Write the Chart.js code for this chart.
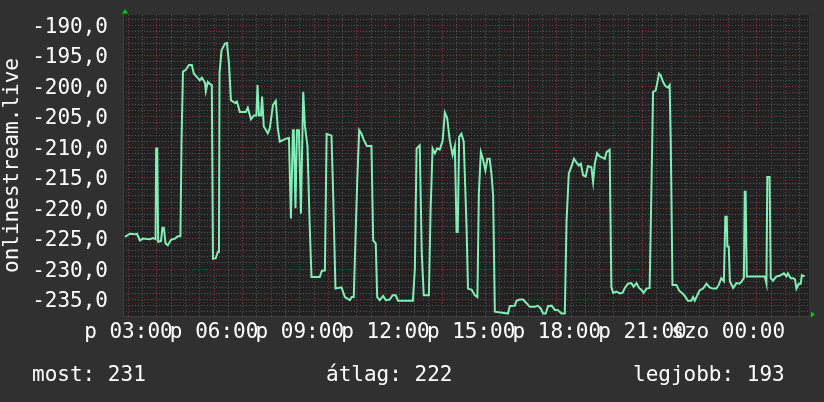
<!DOCTYPE html>
<html><head><meta charset="utf-8">
<script src="https://cdn.jsdelivr.net/npm/chart.js@4/dist/chart.umd.min.js"></script>
<style>
html,body{margin:0;padding:0;background:#303030;}
#wrap{position:relative;width:824px;height:402px;overflow:hidden;background:#303030;}
canvas{position:absolute;left:0;top:0;}
.leg{position:absolute;top:362px;font-family:"DejaVu Sans Mono",monospace;font-size:21px;line-height:24px;color:#ffffff;white-space:pre;}
</style></head><body>
<div id="wrap"><canvas id="c" width="824" height="402"></canvas></div>
<script>
// ---- data (hours since midnight of the first day, value) ----
const times = [2.88,3.05,3.23,3.30,3.40,3.51,3.75,3.86,3.95,3.97,
4.01,4.04,4.14,4.19,4.24,4.30,4.38,4.49,4.63,4.73,
4.82,4.86,4.91,5.01,5.12,5.22,5.29,5.40,5.50,5.57,
5.68,5.71,5.78,5.85,5.92,5.96,6.06,6.13,6.17,6.19,
6.26,6.38,6.45,6.52,6.59,6.73,6.80,6.90,7.11,7.18,
7.29,7.39,7.48,7.52,7.57,7.64,7.68,7.74,7.88,7.95,
8.06,8.16,8.23,8.30,8.51,8.62,8.69,8.76,8.79,8.85,
8.90,8.97,9.04,9.12,9.18,9.27,9.35,9.41,9.70,9.77,
9.88,9.94,10.11,10.17,10.25,10.46,10.58,10.75,10.82,10.89,
11.01,11.08,11.16,11.24,11.35,11.51,11.57,11.66,11.71,11.80,
11.92,12.01,12.15,12.25,12.36,12.44,12.96,13.03,13.09,13.20,
13.27,13.34,13.52,13.58,13.65,13.73,13.81,13.90,14.00,14.08,
14.16,14.25,14.35,14.43,14.49,14.53,14.58,14.66,14.74,14.84,
14.89,15.02,15.13,15.22,15.27,15.34,15.41,15.50,15.57,15.65,
15.71,15.77,15.83,16.29,16.35,16.53,16.59,16.70,16.82,16.94,
17.05,17.23,17.33,17.44,17.52,17.61,17.69,17.82,17.93,18.03,
18.16,18.28,18.34,18.42,18.51,18.60,18.69,18.77,18.84,18.92,
19.01,19.09,19.21,19.27,19.33,19.41,19.50,19.60,19.68,19.74,
19.85,19.91,19.97,20.09,20.20,20.30,20.38,20.49,20.61,20.69,
20.79,20.88,20.96,21.04,21.14,21.25,21.31,21.37,21.46,21.51,
21.58,21.64,21.72,21.81,21.89,21.95,21.99,22.05,22.19,22.28,
22.40,22.51,22.59,22.71,22.77,22.83,22.92,23.00,23.12,23.24,
23.35,23.47,23.59,23.67,23.76,23.85,23.90,23.95,23.97,24.02,
24.06,24.17,24.29,24.40,24.47,24.55,24.58,24.61,24.65,25.28,
25.34,25.37,25.45,25.49,25.57,25.69,25.80,25.87,25.95,26.04,
26.09,26.19,26.29,26.34,26.39,26.47,26.54,26.58,26.68];

const values = [-224.7,-224.2,-224.3,-224.2,-225.3,-225.0,-225.1,-224.9,-225.1,-210.2,
-210.2,-225.5,-225.4,-223.2,-223.2,-225.8,-226.1,-225.2,-225.0,-224.6,
-224.6,-208.8,-197.6,-197.3,-196.5,-196.5,-197.9,-198.5,-199.0,-198.6,
-199.4,-200.8,-199.3,-199.6,-199.8,-228.3,-228.2,-227.2,-227.2,-197.8,
-194.1,-193.0,-192.9,-196.2,-202.3,-202.7,-202.5,-204.2,-204.2,-203.5,
-205.4,-204.8,-204.8,-199.8,-204.8,-204.8,-201.7,-206.6,-207.7,-206.9,
-203.1,-202.4,-206.9,-209.1,-208.6,-208.5,-221.7,-207.2,-207.2,-220.0,
-207.2,-207.2,-220.9,-200.9,-206.5,-209.9,-223.3,-231.3,-231.3,-230.3,
-230.2,-207.8,-208.1,-217.9,-233.2,-233.0,-234.6,-235.1,-234.6,-234.6,
-215.7,-207.2,-207.8,-208.8,-209.8,-209.8,-225.3,-225.8,-234.6,-235.1,
-234.4,-235.1,-235.0,-234.3,-234.3,-235.2,-235.2,-229.9,-210.2,-209.7,
-227.2,-234.3,-234.3,-220.3,-210.2,-211.0,-210.2,-210.4,-209.0,-204.3,
-205.2,-208.8,-211.3,-209.8,-223.9,-223.9,-208.3,-207.8,-209.1,-223.2,
-233.2,-233.4,-234.3,-234.6,-217.6,-210.8,-211.9,-213.8,-211.9,-211.9,
-214.3,-217.9,-237.0,-237.3,-236.1,-236.0,-235.2,-235.0,-235.0,-235.6,
-236.2,-236.2,-236.0,-236.5,-237.3,-237.3,-236.1,-236.0,-236.7,-236.7,
-237.3,-237.3,-222.2,-214.3,-213.2,-211.9,-212.5,-213.0,-212.7,-214.6,
-214.8,-213.1,-213.3,-215.7,-212.7,-211.0,-211.5,-211.7,-211.9,-210.8,
-210.4,-232.9,-233.9,-233.7,-234.0,-233.9,-233.1,-232.4,-232.3,-232.9,
-232.3,-233.1,-233.4,-233.9,-233.2,-233.1,-217.6,-200.9,-200.7,-199.6,
-197.9,-198.2,-199.3,-200.0,-200.2,-199.8,-209.4,-232.6,-232.6,-233.5,
-234.0,-234.6,-235.2,-235.2,-234.6,-235.2,-234.3,-233.5,-233.2,-232.4,
-233.0,-233.2,-233.2,-232.6,-231.5,-232.0,-221.4,-221.4,-226.3,-226.3,
-232.0,-233.1,-232.3,-232.4,-232.0,-231.5,-217.3,-217.3,-231.2,-231.2,
-232.4,-214.9,-214.9,-231.5,-231.9,-231.2,-231.1,-230.9,-230.7,-231.2,
-230.7,-231.5,-231.5,-231.7,-233.2,-232.4,-232.4,-231.0,-231.2];

const xTickHours  = [3, 6, 9, 12, 15, 18, 21, 24];
const xTickLabels = ['p 03:00','p 06:00','p 09:00','p 12:00','p 15:00','p 18:00','p 21:00','szo 00:00'];
const yTickValues = [-190,-195,-200,-205,-210,-215,-220,-225,-230,-235];
const yTickLabels = ['-190,0','-195,0','-200,0','-205,0','-210,0','-215,0','-220,0','-225,0','-230,0','-235,0'];
const yAxisTitle = 'onlinestream.live';
const legendLabels = ['most:', 'átlag:', 'legjobb:'];
const legendValues = [231, 222, 193];

// ---- layout / style ----
const X_MIN = 2.81, X_MAX = 26.83;
const Y_MIN = -237.7, Y_MAX = -188.3;
const FONT = 'DejaVu Sans Mono';
const RED = '#883838', GRAY = '#555555';
const LINE = '#80eeb6';

const legendLeft = [32, 326, 633];
const wrap = document.getElementById('wrap');
legendLabels.forEach((l, i) => {
  const d = document.createElement('div');
  d.className = 'leg';
  d.style.left = legendLeft[i] + 'px';
  d.textContent = l + ' ' + legendValues[i];
  wrap.appendChild(d);
});

const deco = {
  id: 'deco',
  beforeDraw(chart) {
    const {ctx, chartArea: a} = chart;
    ctx.save();
    ctx.fillStyle = '#303030';
    ctx.fillRect(0, 0, chart.width, chart.height);
    ctx.fillStyle = '#222222';
    ctx.fillRect(a.left, a.top, a.right - a.left, a.bottom - a.top);
    ctx.restore();
  },
  afterDraw(chart) {
    const {ctx, chartArea: a} = chart;
    ctx.save();
    ctx.strokeStyle = '#3e3e3e';
    ctx.lineWidth = 1;
    ctx.beginPath();
    ctx.moveTo(a.left + 0.5, a.top - 2);
    ctx.lineTo(a.left + 0.5, a.bottom + 0.5);
    ctx.lineTo(a.right + 2, a.bottom + 0.5);
    ctx.stroke();
    ctx.fillStyle = '#00cc00';
    ctx.beginPath();
    ctx.moveTo(a.left + 2, a.top - 6);
    ctx.lineTo(a.left - 1, a.top - 1.5);
    ctx.lineTo(a.left + 5, a.top - 1.5);
    ctx.closePath();
    ctx.fill();
    ctx.beginPath();
    ctx.moveTo(a.right + 6, a.bottom - 1.5);
    ctx.lineTo(a.right + 2, a.bottom - 4.5);
    ctx.lineTo(a.right + 2, a.bottom + 1.5);
    ctx.closePath();
    ctx.fill();
    ctx.restore();
  }
};

new Chart(document.getElementById('c'), {
  type: 'line',
  data: {
    datasets: [{
      data: times.map((t, i) => ({x: t, y: values[i]})),
      borderColor: LINE,
      borderWidth: 2,
      pointRadius: 0,
      tension: 0,
      fill: false
    }]
  },
  options: {
    responsive: false,
    animation: false,
    devicePixelRatio: 1,
    layout: {padding: {left: 0, top: 15, right: 15, bottom: 0}},
    plugins: {legend: {display: false}, tooltip: {enabled: false}},
    scales: {
      x: {
        type: 'linear', min: X_MIN, max: X_MAX,
        afterBuildTicks: s => { const t = []; for (let h = 3; h <= 26.5 + 1e-9; h += 0.5) t.push({value: h}); s.ticks = t; },
        ticks: {
          autoSkip: false, maxRotation: 0, minRotation: 0, color: '#ffffff', padding: 4,
          font: {family: FONT, size: 21},
          callback: v => { const i = xTickHours.indexOf(v); return i >= 0 ? xTickLabels[i] : ''; }
        },
        grid: {color: c => (c.tick && Number.isInteger(c.tick.value)) ? RED : GRAY, lineWidth: 1, drawTicks: false},
        border: {display: false, dash: [1, 2]},
        afterFit: s => { s.height = 86; s.paddingLeft = 0; s.paddingRight = 0; }
      },
      y: {
        type: 'linear', min: Y_MIN, max: Y_MAX,
        afterBuildTicks: s => { const t = []; for (let v = -237; v <= -189; v++) t.push({value: v}); s.ticks = t; },
        ticks: {
          autoSkip: false, color: '#ffffff', padding: 15, labelOffset: 2,
          font: {family: FONT, size: 21},
          callback: v => { const i = yTickValues.indexOf(v); return i >= 0 ? yTickLabels[i] : ''; }
        },
        grid: {color: c => (c.tick && c.tick.value % 5 === 0) ? RED : GRAY, lineWidth: 1, drawTicks: false},
        border: {display: false, dash: [1, 2]},
        title: {display: true, text: yAxisTitle, color: '#ffffff', font: {family: FONT, size: 21}, padding: {top: 0, bottom: 0}},
        afterFit: s => { s.width = 123; s.paddingTop = 0; s.paddingBottom = 0; }
      }
    }
  },
  plugins: [deco]
});
</script>
</body></html>
